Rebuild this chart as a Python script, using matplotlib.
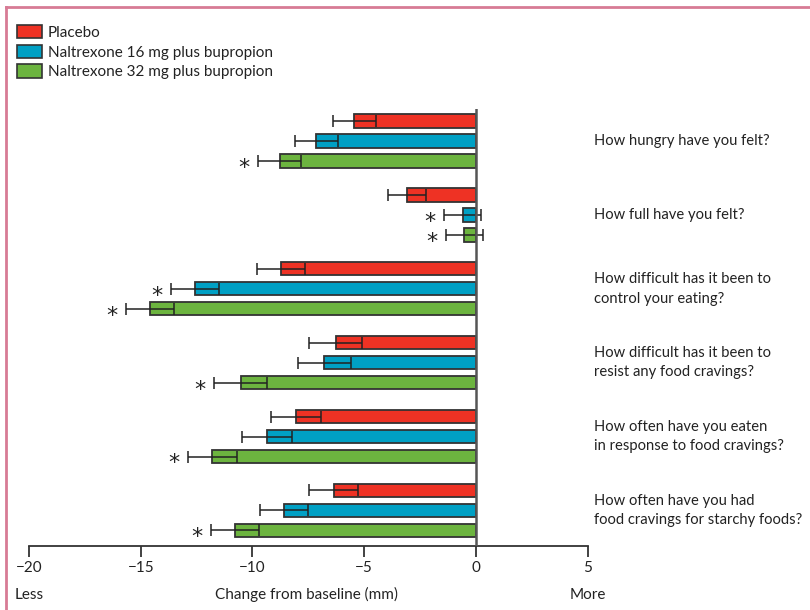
import matplotlib
matplotlib.use("Agg")
import matplotlib.pyplot as plt
from matplotlib.lines import Line2D
from matplotlib.patches import Patch

plt.rcParams['font.family'] = ['Lato', 'DejaVu Sans']

questions = [
    "How hungry have you felt?",
    "How full have you felt?",
    "How difficult has it been to\ncontrol your eating?",
    "How difficult has it been to\nresist any food cravings?",
    "How often have you eaten\nin response to food cravings?",
    "How often have you had\nfood cravings for starchy foods?",
]
series_names = ["Placebo",
                "Naltrexone 16 mg plus bupropion",
                "Naltrexone 32 mg plus bupropion"]

placebo = [-5.45, -3.07, -8.72, -6.28, -8.05, -6.37]
nb16 = [-7.14, -0.60, -12.58, -6.78, -9.33, -8.58]
nb32 = [-8.78, -0.52, -14.60, -10.53, -11.79, -10.78]

placebo_err = [0.96, 0.85, 1.08, 1.19, 1.11, 1.08]
nb16_err = [0.97, 0.83, 1.07, 1.19, 1.12, 1.08]
nb32_err = [0.96, 0.83, 1.08, 1.20, 1.11, 1.09]

# significance vs placebo, per question
nb16_sig = [False, True, True, False, False, False]
nb32_sig = [True, True, True, True, True, True]

xticks = [-20, -15, -10, -5, 0, 5]

colors = ["#EE3224", "#00A0C4", "#6CB43F"]
edge = "#333333"

fig = plt.figure(figsize=(8.1, 6.1), dpi=100)
ax = fig.add_axes([0.0358, 0.1054, 0.6898, 0.7159])

offsets = [-0.271, 0.0, 0.271]
bar_h = 0.18
values = [placebo, nb16, nb32]
errors = [placebo_err, nb16_err, nb32_err]
sigs = [[False] * len(questions), nb16_sig, nb32_sig]

for s in range(3):
    for i in range(len(questions)):
        y = i + offsets[s]
        v = values[s][i]
        e = errors[s][i]
        ax.barh(y, v, height=bar_h, color=colors[s], edgecolor=edge,
                linewidth=1.3, zorder=2)
        ax.errorbar(v, y, xerr=e, fmt='none', ecolor="#222222",
                    elinewidth=1.1, capsize=4, capthick=1.1, zorder=3)
        if sigs[s][i]:
            ax.annotate("*", xy=(v - e, y), xytext=(-6, -5),
                        textcoords="offset points", ha="right", va="center",
                        fontsize=16, color="#222222",
                        family=["DejaVu Sans"])

ax.axvline(0, color="#555555", linewidth=1.8, zorder=4)

ax.set_xlim(-20, 5)
ax.set_ylim(len(questions) - 1 + 0.478, -0.434)
ax.set_xticks(xticks)
ax.set_xticklabels([("\u2212" + str(abs(t))) if t < 0 else str(t) for t in xticks],
                   fontsize=11, color="#222222")
ax.set_yticks([])
ax.tick_params(axis="x", direction="out", length=8, width=1.3, color="#333333", pad=3)
for side in ["left", "right", "top"]:
    ax.spines[side].set_visible(False)
ax.spines["bottom"].set_color("#333333")
ax.spines["bottom"].set_linewidth(1.3)

# question labels on the right
for i, q in enumerate(questions):
    ax.text(1.0107, i, q, transform=ax.get_yaxis_transform(),
            ha="left", va="center", fontsize=10.6, color="#222222",
            linespacing=1.5)

# axis captions
ax.text(-20, -0.112, "Less", transform=ax.get_xaxis_transform(),
        ha="center", va="center", fontsize=11, color="#222222")
ax.text(5, -0.112, "More", transform=ax.get_xaxis_transform(),
        ha="center", va="center", fontsize=11, color="#222222")
ax.text(-7.6, -0.112, "Change from baseline (mm)", transform=ax.get_xaxis_transform(),
        ha="center", va="center", fontsize=11, color="#222222")

# legend
handles = [Patch(facecolor=c, edgecolor=edge, linewidth=1.2) for c in colors]
fig.legend(handles, series_names, loc="upper left",
           bbox_to_anchor=(0.014, 0.969), frameon=False, fontsize=11,
           handlelength=1.6, handleheight=0.95, handletextpad=0.4,
           labelspacing=0.32, borderaxespad=0, labelcolor="#222222")

# frame lines along the top and left edges
border = "#D77B95"
fig.add_artist(Line2D([6 / 810, 1.0], [1 - 7 / 610, 1 - 7 / 610],
                      transform=fig.transFigure, color=border, linewidth=2))
fig.add_artist(Line2D([6 / 810, 6 / 810], [0, 1 - 7 / 610],
                      transform=fig.transFigure, color=border, linewidth=2))

fig.savefig("out.png", dpi=100, facecolor="white")
